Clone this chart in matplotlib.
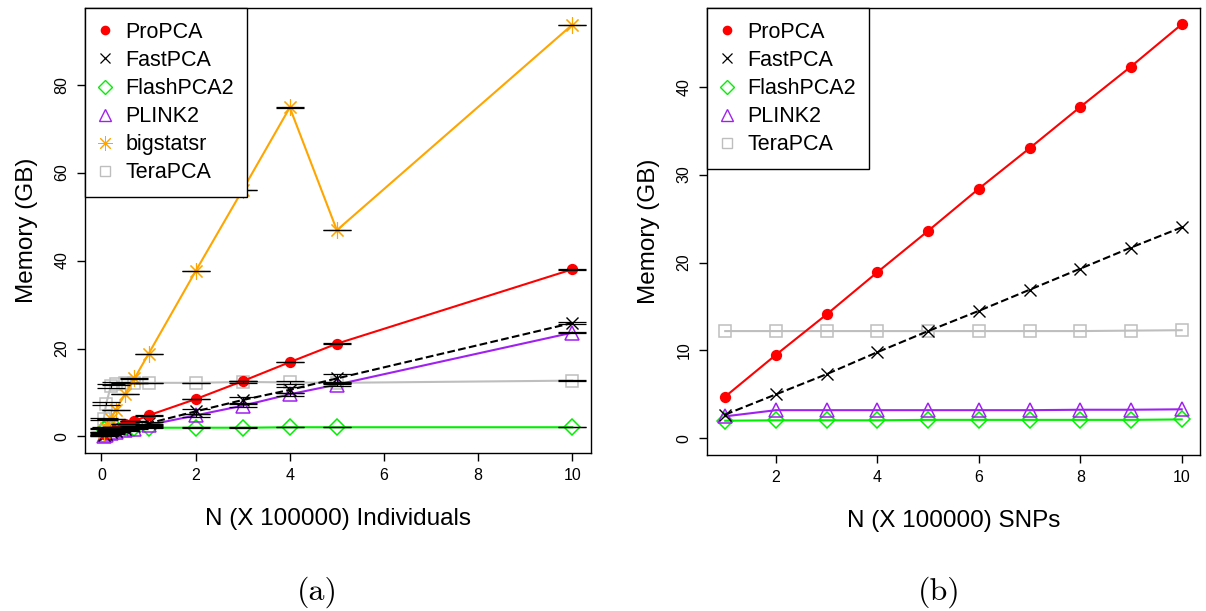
import matplotlib.pyplot as plt
from matplotlib.lines import Line2D

plt.rcParams['font.family'] = ['Liberation Sans', 'DejaVu Sans']

# (a) memory vs number of individuals (x 100000)
ind_x = [0.05, 0.1, 0.2, 0.3, 0.5, 0.7, 1, 2, 3, 4, 5, 10]
propca_ind = [0.5, 0.9, 1.4, 2.0, 2.8, 3.5, 4.8, 8.5, 12.6, 16.9, 21.1, 38.0]
fastpca_ind = [0.4, 0.6, 1.0, 1.3, 1.8, 2.3, 3.0, 5.7, 8.3, 10.6, 13.2, 25.8]
flashpca_ind = [1.8, 1.9, 2.0, 2.0, 2.0, 2.0, 2.0, 2.0, 2.0, 2.1, 2.1, 2.1]
plink_ind = [0.2, 0.4, 0.7, 1.0, 1.4, 1.8, 2.6, 4.8, 7.0, 9.6, 11.8, 23.6]
bigstatsr_ind = [1.0, 2.0, 4.0, 6.0, 9.6, 13.2, 18.8, 37.6, 56.1, 74.8, 46.9, 93.6]
terapca_ind = [4.0, 7.5, 11.5, 12.0, 12.2, 12.2, 12.2, 12.2, 12.4, 12.3, 12.2, 12.7]

# standard deviations (error bars)
propca_ind_sd = [0.05, 0.05, 0.05, 0.05, 0.05, 0.05, 0.05, 0.05, 0.05, 0.05, 0.05, 0.05]
fastpca_ind_sd = [0.3, 0.3, 0.3, 0.3, 0.2, 0.2, 0.3, 0.5, 0.6, 0.7, 1.1, 0.2]
flashpca_ind_sd = [0.05, 0.05, 0.05, 0.05, 0.05, 0.05, 0.05, 0.05, 0.05, 0.05, 0.05, 0.05]
plink_ind_sd = [0.05, 0.05, 0.05, 0.05, 0.05, 0.05, 0.2, 0.3, 0.3, 0.3, 0.3, 0.05]
bigstatsr_ind_sd = [0.05, 0.05, 0.05, 0.05, 0.05, 0.05, 0.05, 0.05, 0.05, 0.05, 0.05, 0.05]
terapca_ind_sd = [0.3, 0.4, 0.4, 0.3, 0.05, 0.05, 0.05, 0.05, 0.2, 0.4, 0.2, 0.05]

# (b) memory vs number of SNPs (x 100000)
snp_x = [1, 2, 3, 4, 5, 6, 7, 8, 9, 10]
propca_snp = [4.75, 9.5, 14.1, 18.9, 23.6, 28.4, 33.0, 37.7, 42.3, 47.1]
fastpca_snp = [2.7, 5.0, 7.3, 9.8, 12.2, 14.5, 16.9, 19.3, 21.7, 24.0]
flashpca_snp = [2.0, 2.05, 2.05, 2.05, 2.1, 2.1, 2.1, 2.1, 2.1, 2.15]
plink_snp = [2.5, 3.2, 3.2, 3.2, 3.2, 3.2, 3.2, 3.25, 3.25, 3.3]
terapca_snp = [12.2, 12.2, 12.2, 12.2, 12.2, 12.2, 12.2, 12.2, 12.25, 12.3]

RED, BLACK, GREEN, PURPLE, ORANGE, GREY = 'red', 'black', '#00ee00', '#a020f0', '#ffa500', '#bebebe'

styles = {
    'ProPCA': dict(color=RED, marker='o', ms=7, mfc=RED, ls='-', mew=1.1),
    'FastPCA': dict(color=BLACK, marker='x', ms=8, mfc='none', ls='--', mew=1.0),
    'FlashPCA2': dict(color=GREEN, marker='D', ms=8, mfc='none', ls='-', mew=1.1),
    'PLINK2': dict(color=PURPLE, marker='^', ms=10, mfc='none', ls='-', mew=1.1),
    'bigstatsr': dict(color=ORANGE, marker=(8, 2, 0), ms=12, mfc='none', ls='-', mew=0.8),
    'TeraPCA': dict(color=GREY, marker='s', ms=8, mfc='none', ls='-', mew=1.1),
}


def draw(ax, x, y, name):
    st = styles[name]
    ax.plot(x, y, color=st['color'], ls=st['ls'], lw=1.5,
            marker=st['marker'], ms=st['ms'], mfc=st['mfc'], mec=st['color'], mew=st['mew'])


def legend(ax, names):
    handles = [Line2D([], [], ls='none', marker=styles[n]['marker'], ms=styles[n]['ms'] * 0.85,
                      mfc=styles[n]['mfc'], mec=styles[n]['color'], mew=styles[n]['mew'] * 0.9)
               for n in names]
    leg = ax.legend(handles, names, loc='upper left', borderaxespad=0, fancybox=False,
                    edgecolor='black', framealpha=1, fontsize=15.5, handlelength=0.6,
                    handletextpad=0.65, labelspacing=0.33, borderpad=0.62)
    leg.get_frame().set_linewidth(1.0)


def style_axes(ax):
    for s in ax.spines.values():
        s.set_linewidth(1.0)
    ax.tick_params(direction='out', length=6, width=1, labelsize=11.5, pad=5)
    for t in ax.get_yticklabels():
        t.set_rotation(90)
        t.set_va('center')


fig = plt.figure(figsize=(12.06, 6.11), dpi=100)
ax1 = fig.add_axes([0.0705, 0.2586, 0.4196, 0.7275])
ax2 = fig.add_axes([0.5862, 0.2553, 0.4088, 0.7308])

# panel (a)
ind_series = [('FlashPCA2', flashpca_ind, flashpca_ind_sd), ('TeraPCA', terapca_ind, terapca_ind_sd),
              ('PLINK2', plink_ind, plink_ind_sd), ('FastPCA', fastpca_ind, fastpca_ind_sd),
              ('ProPCA', propca_ind, propca_ind_sd), ('bigstatsr', bigstatsr_ind, bigstatsr_ind_sd)]
for name, y, sd in ind_series:
    draw(ax1, ind_x, y, name)
for name, y, sd in ind_series:
    ax1.errorbar(ind_x, y, yerr=sd, fmt='none', ecolor='black', elinewidth=0.8,
                 capsize=10, capthick=0.9, zorder=3)
ax1.set_xlim(-0.35, 10.4)
ax1.set_ylim(-3.75, 97.3)
ax1.set_xticks([0, 2, 4, 6, 8, 10])
ax1.set_yticks([0, 20, 40, 60, 80])
ax1.set_xlabel('N (X 100000) Individuals', fontsize=17.5, labelpad=18)
ax1.set_ylabel('Memory (GB)', fontsize=17.5, labelpad=12)
style_axes(ax1)
legend(ax1, ['ProPCA', 'FastPCA', 'FlashPCA2', 'PLINK2', 'bigstatsr', 'TeraPCA'])

# panel (b)
snp_series = [('TeraPCA', terapca_snp), ('FlashPCA2', flashpca_snp), ('PLINK2', plink_snp),
              ('FastPCA', fastpca_snp), ('ProPCA', propca_snp)]
for name, y in snp_series:
    draw(ax2, snp_x, y, name)
ax2.set_xlim(0.64, 10.36)
ax2.set_ylim(-1.9, 48.9)
ax2.set_xticks([2, 4, 6, 8, 10])
ax2.set_yticks([0, 10, 20, 30, 40])
ax2.set_xlabel('N (X 100000) SNPs', fontsize=17.5, labelpad=18)
ax2.set_ylabel('Memory (GB)', fontsize=17.5, labelpad=12)
style_axes(ax2)
legend(ax2, ['ProPCA', 'FastPCA', 'FlashPCA2', 'PLINK2', 'TeraPCA'])

fig.text(0.2635, 0.018, '(a)', fontsize=23, family='cmr10', ha='center')
fig.text(0.779, 0.018, '(b)', fontsize=23, family='cmr10', ha='center')

fig.savefig('out.png', dpi=100)
